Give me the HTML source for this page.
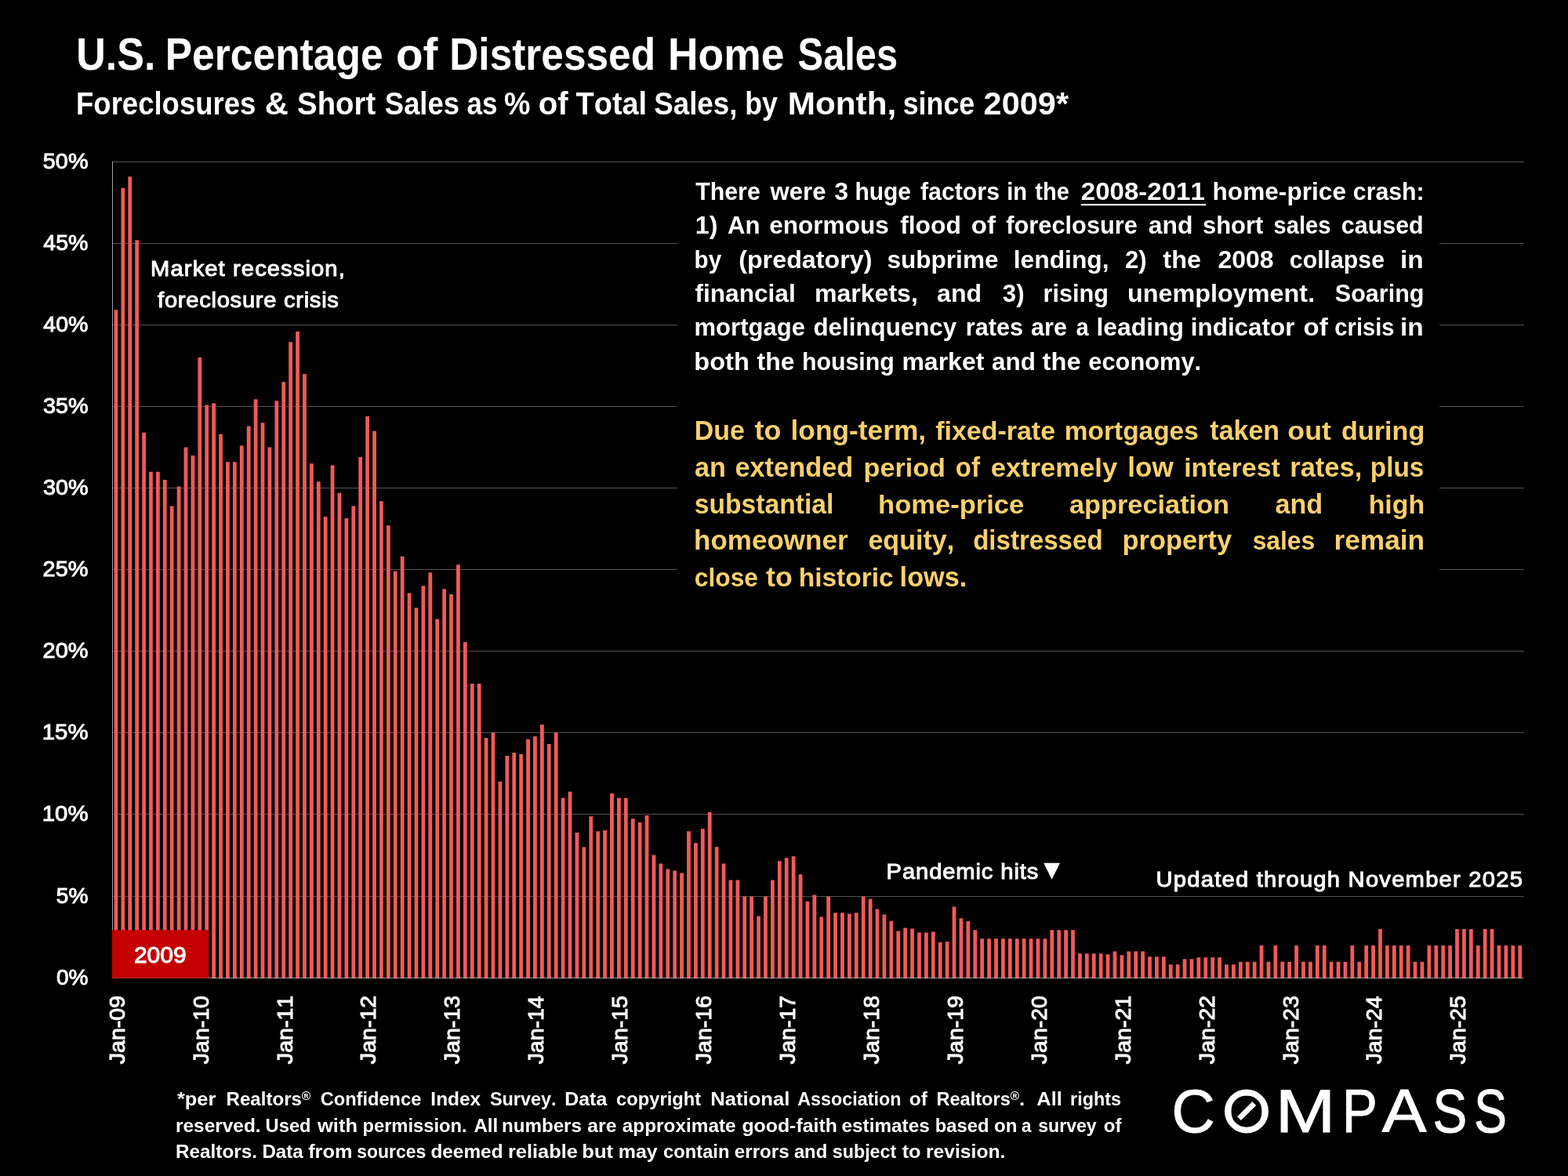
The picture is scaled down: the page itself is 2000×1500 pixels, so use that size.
<!DOCTYPE html>
<html lang="en"><head><meta charset="utf-8"><title>U.S. Percentage of Distressed Home Sales</title>
<style>html,body{margin:0;padding:0;background:#000;width:2000px;height:1500px;overflow:hidden}svg{display:block}text{white-space:pre;font-kerning:none}</style></head>
<body>
<svg width="2000" height="1500" viewBox="0 0 2000 1500" font-family="'Liberation Sans', sans-serif" fill="#fff">
<rect width="2000" height="1500" fill="#000"/>
<g fill="#525252">
<rect x="143.0" y="1143" width="1801" height="1"/>
<rect x="143.0" y="1038" width="1801" height="1"/>
<rect x="143.0" y="934" width="1801" height="1"/>
<rect x="143.0" y="830" width="1801" height="1"/>
<rect x="143.0" y="726" width="1801" height="1"/>
<rect x="143.0" y="622" width="1801" height="1"/>
<rect x="143.0" y="518" width="1801" height="1"/>
<rect x="143.0" y="414" width="1801" height="1"/>
<rect x="143.0" y="310" width="1801" height="1"/>
<rect x="143.0" y="206" width="1801" height="1"/>
</g>
<rect x="864" y="215" width="972" height="560" fill="#000"/>
<path fill="#f05a5a" d="M145.50 1248v-852.84h4.8v852.84zM154.41 1248v-1008.22h4.8v1008.22zM163.32 1248v-1022.78h4.8v1022.78zM172.23 1248v-941.66h4.8v941.66zM181.14 1248v-696.22h4.8v696.22zM190.05 1248v-646.30h4.8v646.30zM198.96 1248v-646.30h4.8v646.30zM207.87 1248v-635.90h4.8v635.90zM216.78 1248v-602.62h4.8v602.62zM225.69 1248v-627.58h4.8v627.58zM234.59 1248v-677.50h4.8v677.50zM243.50 1248v-667.10h4.8v667.10zM252.41 1248v-791.90h4.8v791.90zM261.32 1248v-731.58h4.8v731.58zM270.23 1248v-733.66h4.8v733.66zM279.14 1248v-694.14h4.8v694.14zM288.05 1248v-658.78h4.8v658.78zM296.96 1248v-658.78h4.8v658.78zM305.87 1248v-679.58h4.8v679.58zM314.78 1248v-704.54h4.8v704.54zM323.69 1248v-738.86h4.8v738.86zM332.60 1248v-708.70h4.8v708.70zM341.51 1248v-677.50h4.8v677.50zM350.42 1248v-736.78h4.8v736.78zM359.33 1248v-760.70h4.8v760.70zM368.24 1248v-811.66h4.8v811.66zM377.15 1248v-825.18h4.8v825.18zM386.06 1248v-771.10h4.8v771.10zM394.97 1248v-656.70h4.8v656.70zM403.88 1248v-633.82h4.8v633.82zM412.78 1248v-589.10h4.8v589.10zM421.69 1248v-654.62h4.8v654.62zM430.60 1248v-619.26h4.8v619.26zM439.51 1248v-587.02h4.8v587.02zM448.42 1248v-602.62h4.8v602.62zM457.33 1248v-665.02h4.8v665.02zM466.24 1248v-717.02h4.8v717.02zM475.15 1248v-698.30h4.8v698.30zM484.06 1248v-608.86h4.8v608.86zM492.97 1248v-577.66h4.8v577.66zM501.88 1248v-519.42h4.8v519.42zM510.79 1248v-538.14h4.8v538.14zM519.70 1248v-491.55h4.8v491.55zM528.61 1248v-472.83h4.8v472.83zM537.52 1248v-500.70h4.8v500.70zM546.43 1248v-517.76h4.8v517.76zM555.34 1248v-458.48h4.8v458.48zM564.25 1248v-496.75h4.8v496.75zM573.16 1248v-489.88h4.8v489.88zM582.07 1248v-527.74h4.8v527.74zM590.97 1248v-428.94h4.8v428.94zM599.88 1248v-375.90h4.8v375.90zM608.79 1248v-375.90h4.8v375.90zM617.70 1248v-306.84h4.8v306.84zM626.61 1248v-313.50h4.8v313.50zM635.52 1248v-251.10h4.8v251.10zM644.43 1248v-283.96h4.8v283.96zM653.34 1248v-288.12h4.8v288.12zM662.25 1248v-286.04h4.8v286.04zM671.16 1248v-304.97h4.8v304.97zM680.07 1248v-308.72h4.8v308.72zM688.98 1248v-323.69h4.8v323.69zM697.89 1248v-298.94h4.8v298.94zM706.80 1248v-313.50h4.8v313.50zM715.71 1248v-230.30h4.8v230.30zM724.62 1248v-238.20h4.8v238.20zM733.53 1248v-185.98h4.8v185.98zM742.44 1248v-167.50h4.8v167.50zM751.35 1248v-206.77h4.8v206.77zM760.26 1248v-187.87h4.8v187.87zM769.16 1248v-188.92h4.8v188.92zM778.07 1248v-236.12h4.8v236.12zM786.98 1248v-230.30h4.8v230.30zM795.89 1248v-230.30h4.8v230.30zM804.80 1248v-203.83h4.8v203.83zM813.71 1248v-199.00h4.8v199.00zM822.62 1248v-208.03h4.8v208.03zM831.53 1248v-157.42h4.8v157.42zM840.44 1248v-146.50h4.8v146.50zM849.35 1248v-139.57h4.8v139.57zM858.26 1248v-137.47h4.8v137.47zM867.17 1248v-134.53h4.8v134.53zM876.08 1248v-187.87h4.8v187.87zM884.99 1248v-172.75h4.8v172.75zM893.90 1248v-190.81h4.8v190.81zM902.81 1248v-212.00h4.8v212.00zM911.72 1248v-167.71h4.8v167.71zM920.63 1248v-146.50h4.8v146.50zM929.54 1248v-125.50h4.8v125.50zM938.45 1248v-125.50h4.8v125.50zM947.35 1248v-104.50h4.8v104.50zM956.26 1248v-104.50h4.8v104.50zM965.17 1248v-79.54h4.8v79.54zM974.08 1248v-104.50h4.8v104.50zM982.99 1248v-125.50h4.8v125.50zM991.90 1248v-149.65h4.8v149.65zM1000.81 1248v-153.64h4.8v153.64zM1009.72 1248v-155.74h4.8v155.74zM1018.63 1248v-132.64h4.8v132.64zM1027.54 1248v-98.26h4.8v98.26zM1036.45 1248v-106.39h4.8v106.39zM1045.36 1248v-78.50h4.8v78.50zM1054.27 1248v-104.50h4.8v104.50zM1063.18 1248v-83.70h4.8v83.70zM1072.09 1248v-83.70h4.8v83.70zM1081.00 1248v-82.45h4.8v82.45zM1089.91 1248v-83.70h4.8v83.70zM1098.82 1248v-104.50h4.8v104.50zM1107.73 1248v-101.38h4.8v101.38zM1116.64 1248v-88.48h4.8v88.48zM1125.55 1248v-81.62h4.8v81.62zM1134.45 1248v-73.30h4.8v73.30zM1143.36 1248v-60.61h4.8v60.61zM1152.27 1248v-64.56h4.8v64.56zM1161.18 1248v-63.52h4.8v63.52zM1170.09 1248v-58.53h4.8v58.53zM1179.00 1248v-58.53h4.8v58.53zM1187.91 1248v-59.57h4.8v59.57zM1196.82 1248v-46.26h4.8v46.26zM1205.73 1248v-47.09h4.8v47.09zM1214.64 1248v-91.60h4.8v91.60zM1223.55 1248v-76.63h4.8v76.63zM1232.46 1248v-72.88h4.8v72.88zM1241.37 1248v-61.65h4.8v61.65zM1250.28 1248v-50.63h4.8v50.63zM1259.19 1248v-50.63h4.8v50.63zM1268.10 1248v-50.63h4.8v50.63zM1277.01 1248v-50.63h4.8v50.63zM1285.92 1248v-50.63h4.8v50.63zM1294.83 1248v-50.63h4.8v50.63zM1303.73 1248v-50.63h4.8v50.63zM1312.64 1248v-50.63h4.8v50.63zM1321.55 1248v-50.63h4.8v50.63zM1330.46 1248v-50.63h4.8v50.63zM1339.37 1248v-61.65h4.8v61.65zM1348.28 1248v-61.65h4.8v61.65zM1357.19 1248v-61.65h4.8v61.65zM1366.10 1248v-61.65h4.8v61.65zM1375.01 1248v-31.70h4.8v31.70zM1383.92 1248v-31.70h4.8v31.70zM1392.83 1248v-31.70h4.8v31.70zM1401.74 1248v-31.70h4.8v31.70zM1410.65 1248v-30.87h4.8v30.87zM1419.56 1248v-34.61h4.8v34.61zM1428.47 1248v-29.83h4.8v29.83zM1437.38 1248v-34.61h4.8v34.61zM1446.29 1248v-34.61h4.8v34.61zM1455.20 1248v-34.61h4.8v34.61zM1464.11 1248v-27.75h4.8v27.75zM1473.02 1248v-27.75h4.8v27.75zM1481.92 1248v-27.75h4.8v27.75zM1490.83 1248v-17.76h4.8v17.76zM1499.74 1248v-17.76h4.8v17.76zM1508.65 1248v-24.63h4.8v24.63zM1517.56 1248v-24.63h4.8v24.63zM1526.47 1248v-26.71h4.8v26.71zM1535.38 1248v-26.71h4.8v26.71zM1544.29 1248v-26.71h4.8v26.71zM1553.20 1248v-26.71h4.8v26.71zM1562.11 1248v-17.76h4.8v17.76zM1571.02 1248v-17.76h4.8v17.76zM1579.93 1248v-21.30h4.8v21.30zM1588.84 1248v-21.30h4.8v21.30zM1597.75 1248v-21.30h4.8v21.30zM1606.66 1248v-42.10h4.8v42.10zM1615.57 1248v-21.30h4.8v21.30zM1624.48 1248v-42.10h4.8v42.10zM1633.39 1248v-21.30h4.8v21.30zM1642.30 1248v-21.30h4.8v21.30zM1651.21 1248v-42.10h4.8v42.10zM1660.12 1248v-21.30h4.8v21.30zM1669.02 1248v-21.30h4.8v21.30zM1677.93 1248v-42.10h4.8v42.10zM1686.84 1248v-42.10h4.8v42.10zM1695.75 1248v-21.30h4.8v21.30zM1704.66 1248v-21.30h4.8v21.30zM1713.57 1248v-21.30h4.8v21.30zM1722.48 1248v-42.10h4.8v42.10zM1731.39 1248v-21.30h4.8v21.30zM1740.30 1248v-42.10h4.8v42.10zM1749.21 1248v-42.10h4.8v42.10zM1758.12 1248v-62.90h4.8v62.90zM1767.03 1248v-42.10h4.8v42.10zM1775.94 1248v-42.10h4.8v42.10zM1784.85 1248v-42.10h4.8v42.10zM1793.76 1248v-42.10h4.8v42.10zM1802.67 1248v-21.30h4.8v21.30zM1811.58 1248v-21.30h4.8v21.30zM1820.49 1248v-42.10h4.8v42.10zM1829.40 1248v-42.10h4.8v42.10zM1838.30 1248v-42.10h4.8v42.10zM1847.21 1248v-42.10h4.8v42.10zM1856.12 1248v-62.90h4.8v62.90zM1865.03 1248v-62.90h4.8v62.90zM1873.94 1248v-62.90h4.8v62.90zM1882.85 1248v-42.10h4.8v42.10zM1891.76 1248v-62.90h4.8v62.90zM1900.67 1248v-62.90h4.8v62.90zM1909.58 1248v-42.10h4.8v42.10zM1918.49 1248v-42.10h4.8v42.10zM1927.40 1248v-42.10h4.8v42.10zM1936.31 1248v-42.10h4.8v42.10z"/>
<rect x="143.0" y="206" width="1" height="1042" fill="#a6a6a6"/>
<rect x="143.0" y="1247" width="1800" height="1" fill="#c8c8c8" fill-opacity="0.7"/>
<rect x="143" y="1186.25" width="123.25" height="61.5" fill="#c40000"/>
<text transform="translate(170.89 1227.60) scale(1.0200 1)" font-size="29.5" stroke="#fff" stroke-width="1.0">2009</text>
<g>
<text transform="translate(71.90 1256.40) scale(0.9961 1)" font-size="28.2" stroke="#fff" stroke-width="1.0">0%</text>
<text transform="translate(71.87 1152.40) scale(0.9968 1)" font-size="28.2" stroke="#fff" stroke-width="1.0">5%</text>
<text transform="translate(53.76 1047.40) scale(1.0415 1)" font-size="28.2" stroke="#fff" stroke-width="1.0">10%</text>
<text transform="translate(53.76 943.40) scale(1.0415 1)" font-size="28.2" stroke="#fff" stroke-width="1.0">15%</text>
<text transform="translate(54.54 839.40) scale(1.0274 1)" font-size="28.2" stroke="#fff" stroke-width="1.0">20%</text>
<text transform="translate(54.54 735.40) scale(1.0274 1)" font-size="28.2" stroke="#fff" stroke-width="1.0">25%</text>
<text transform="translate(54.90 631.40) scale(1.0209 1)" font-size="28.2" stroke="#fff" stroke-width="1.0">30%</text>
<text transform="translate(54.90 527.40) scale(1.0209 1)" font-size="28.2" stroke="#fff" stroke-width="1.0">35%</text>
<text transform="translate(55.34 423.40) scale(1.0130 1)" font-size="28.2" stroke="#fff" stroke-width="1.0">40%</text>
<text transform="translate(55.34 319.40) scale(1.0130 1)" font-size="28.2" stroke="#fff" stroke-width="1.0">45%</text>
<text transform="translate(54.85 215.40) scale(1.0220 1)" font-size="28.2" stroke="#fff" stroke-width="1.0">50%</text>
</g>
<g>
<text transform="translate(158.70 1271.20) rotate(-90) translate(-85.95 0) scale(1.0125 1)" font-size="28.2" stroke="#fff" stroke-width="1.0">Jan-09</text>
<text transform="translate(265.61 1271.20) rotate(-90) translate(-85.94 0) scale(1.0097 1)" font-size="28.2" stroke="#fff" stroke-width="1.0">Jan-10</text>
<text transform="translate(372.53 1271.20) rotate(-90) translate(-85.95 0) scale(1.0129 1)" font-size="28.2" stroke="#fff" stroke-width="1.0">Jan-11</text>
<text transform="translate(479.44 1271.20) rotate(-90) translate(-85.95 0) scale(1.0134 1)" font-size="28.2" stroke="#fff" stroke-width="1.0">Jan-12</text>
<text transform="translate(586.36 1271.20) rotate(-90) translate(-85.95 0) scale(1.0113 1)" font-size="28.2" stroke="#fff" stroke-width="1.0">Jan-13</text>
<text transform="translate(693.27 1271.20) rotate(-90) translate(-85.94 0) scale(1.0064 1)" font-size="28.2" stroke="#fff" stroke-width="1.0">Jan-14</text>
<text transform="translate(800.18 1271.20) rotate(-90) translate(-85.95 0) scale(1.0106 1)" font-size="28.2" stroke="#fff" stroke-width="1.0">Jan-15</text>
<text transform="translate(907.10 1271.20) rotate(-90) translate(-85.95 0) scale(1.0113 1)" font-size="28.2" stroke="#fff" stroke-width="1.0">Jan-16</text>
<text transform="translate(1014.01 1271.20) rotate(-90) translate(-85.95 0) scale(1.0134 1)" font-size="28.2" stroke="#fff" stroke-width="1.0">Jan-17</text>
<text transform="translate(1120.93 1271.20) rotate(-90) translate(-85.95 0) scale(1.0111 1)" font-size="28.2" stroke="#fff" stroke-width="1.0">Jan-18</text>
<text transform="translate(1227.84 1271.20) rotate(-90) translate(-85.95 0) scale(1.0125 1)" font-size="28.2" stroke="#fff" stroke-width="1.0">Jan-19</text>
<text transform="translate(1334.75 1271.20) rotate(-90) translate(-85.94 0) scale(1.0097 1)" font-size="28.2" stroke="#fff" stroke-width="1.0">Jan-20</text>
<text transform="translate(1441.67 1271.20) rotate(-90) translate(-85.95 0) scale(1.0129 1)" font-size="28.2" stroke="#fff" stroke-width="1.0">Jan-21</text>
<text transform="translate(1548.58 1271.20) rotate(-90) translate(-85.95 0) scale(1.0134 1)" font-size="28.2" stroke="#fff" stroke-width="1.0">Jan-22</text>
<text transform="translate(1655.50 1271.20) rotate(-90) translate(-85.95 0) scale(1.0113 1)" font-size="28.2" stroke="#fff" stroke-width="1.0">Jan-23</text>
<text transform="translate(1762.41 1271.20) rotate(-90) translate(-85.94 0) scale(1.0064 1)" font-size="28.2" stroke="#fff" stroke-width="1.0">Jan-24</text>
<text transform="translate(1869.32 1271.20) rotate(-90) translate(-85.95 0) scale(1.0106 1)" font-size="28.2" stroke="#fff" stroke-width="1.0">Jan-25</text>
</g>
<g>
<text transform="translate(97.17 89.00) scale(0.9211 1)" font-size="56.5" font-weight="bold">U.S.</text>
<text transform="translate(210.75 89.00) scale(0.9123 1)" font-size="56.5" font-weight="bold">Percentage</text>
<text transform="translate(504.89 89.00) scale(1.0014 1)" font-size="56.5" font-weight="bold">of</text>
<text transform="translate(573.26 89.00) scale(0.9097 1)" font-size="56.5" font-weight="bold">Distressed</text>
<text transform="translate(852.02 89.00) scale(0.9460 1)" font-size="56.5" font-weight="bold">Home</text>
<text transform="translate(1017.59 89.00) scale(0.8643 1)" font-size="56.5" font-weight="bold">Sales</text>
</g>
<g>
<text transform="translate(97.06 146.40) scale(0.9017 1)" font-size="40.5" font-weight="bold">Foreclosures</text>
<text transform="translate(337.87 146.40) scale(1.0304 1)" font-size="40.5" font-weight="bold">&amp;</text>
<text transform="translate(379.09 146.40) scale(0.9474 1)" font-size="40.5" font-weight="bold">Short</text>
<text transform="translate(490.85 146.40) scale(0.8989 1)" font-size="40.5" font-weight="bold">Sales</text>
<text transform="translate(595.47 146.40) scale(0.8649 1)" font-size="40.5" font-weight="bold">as</text>
<text transform="translate(643.06 146.40) scale(0.9283 1)" font-size="40.5" font-weight="bold">%</text>
<text transform="translate(686.73 146.40) scale(0.9939 1)" font-size="40.5" font-weight="bold">of</text>
<text transform="translate(734.57 146.40) scale(0.9366 1)" font-size="40.5" font-weight="bold">Total</text>
<text transform="translate(834.24 146.40) scale(0.9071 1)" font-size="40.5" font-weight="bold">Sales,</text>
<text transform="translate(950.25 146.40) scale(0.8811 1)" font-size="40.5" font-weight="bold">by</text>
<text transform="translate(1004.67 146.40) scale(1.0450 1)" font-size="40.5" font-weight="bold">Month,</text>
<text transform="translate(1151.74 146.40) scale(0.8833 1)" font-size="40.5" font-weight="bold">since</text>
<text transform="translate(1254.56 146.40) scale(1.0248 1)" font-size="40.5" font-weight="bold">2009*</text>
</g>
<text transform="translate(192.11 352.00) scale(1.05 1)" font-size="27.8" stroke="#fff" stroke-width="1.0" letter-spacing="1.033">Market recession,</text>
<text transform="translate(201.09 392.00) scale(1.05 1)" font-size="27.8" stroke="#fff" stroke-width="1.0" letter-spacing="0.666">foreclosure crisis</text>
<text transform="translate(1130.61 1120.70) scale(1.05 1)" font-size="27.8" stroke="#fff" stroke-width="1.0" letter-spacing="0.823">Pandemic hits</text>
<polygon points="1331.25,1100.75 1352,1100.75 1341.6,1121.75"/>
<text transform="translate(1474.50 1130.70) scale(1.05 1)" font-size="27.8" stroke="#fff" stroke-width="1.0" letter-spacing="1.163">Updated through November 2025</text>
<g>
<text transform="translate(887.16 255.00) scale(0.9694 1)" font-size="31.3" font-weight="bold">There</text>
<text transform="translate(982.59 255.00) scale(0.9948 1)" font-size="31.3" font-weight="bold">were</text>
<text transform="translate(1064.26 255.00) scale(1.0284 1)" font-size="31.3" font-weight="bold">3</text>
<text transform="translate(1090.41 255.00) scale(0.9579 1)" font-size="31.3" font-weight="bold">huge</text>
<text transform="translate(1173.98 255.00) scale(0.9678 1)" font-size="31.3" font-weight="bold">factors</text>
<text transform="translate(1284.20 255.00) scale(0.9300 1)" font-size="31.3" font-weight="bold">in</text>
<text transform="translate(1320.24 255.00) scale(0.9300 1)" font-size="31.3" font-weight="bold">the</text>
<text transform="translate(1378.85 255.00) scale(1.0560 1)" font-size="31.3" font-weight="bold">2008-2011</text>
<text transform="translate(1546.54 255.00) scale(1.0108 1)" font-size="31.3" font-weight="bold">home-price</text>
<text transform="translate(1725.82 255.00) scale(0.9670 1)" font-size="31.3" font-weight="bold">crash:</text>
<text transform="translate(886.72 298.25) scale(1.0288 1)" font-size="31.3" font-weight="bold">1)</text>
<text transform="translate(927.98 298.25) scale(0.9935 1)" font-size="31.3" font-weight="bold">An</text>
<text transform="translate(981.27 298.25) scale(1.0081 1)" font-size="31.3" font-weight="bold">enormous</text>
<text transform="translate(1148.21 298.25) scale(1.0152 1)" font-size="31.3" font-weight="bold">flood</text>
<text transform="translate(1238.71 298.25) scale(1.0570 1)" font-size="31.3" font-weight="bold">of</text>
<text transform="translate(1283.22 298.25) scale(0.9845 1)" font-size="31.3" font-weight="bold">foreclosure</text>
<text transform="translate(1464.81 298.25) scale(1.0206 1)" font-size="31.3" font-weight="bold">and</text>
<text transform="translate(1533.91 298.25) scale(0.9900 1)" font-size="31.3" font-weight="bold">short</text>
<text transform="translate(1624.54 298.25) scale(0.9300 1)" font-size="31.3" font-weight="bold">sales</text>
<text transform="translate(1710.81 298.25) scale(0.9729 1)" font-size="31.3" font-weight="bold">caused</text>
<text transform="translate(885.54 341.75) scale(0.9476 1)" font-size="31.3" font-weight="bold">by</text>
<text transform="translate(942.14 341.75) scale(1.0318 1)" font-size="31.3" font-weight="bold">(predatory)</text>
<text transform="translate(1131.39 341.75) scale(1.0093 1)" font-size="31.3" font-weight="bold">subprime</text>
<text transform="translate(1292.78 341.75) scale(1.0156 1)" font-size="31.3" font-weight="bold">lending,</text>
<text transform="translate(1434.92 341.75) scale(0.9926 1)" font-size="31.3" font-weight="bold">2)</text>
<text transform="translate(1483.35 341.75) scale(1.0385 1)" font-size="31.3" font-weight="bold">the</text>
<text transform="translate(1553.39 341.75) scale(1.0247 1)" font-size="31.3" font-weight="bold">2008</text>
<text transform="translate(1644.82 341.75) scale(0.9677 1)" font-size="31.3" font-weight="bold">collapse</text>
<text transform="translate(1786.06 341.75) scale(1.0700 1)" font-size="31.3" font-weight="bold">in</text>
<text transform="translate(886.46 385.00) scale(1.0103 1)" font-size="31.3" font-weight="bold">financial</text>
<text transform="translate(1038.88 385.00) scale(1.0252 1)" font-size="31.3" font-weight="bold">markets,</text>
<text transform="translate(1195.06 385.00) scale(1.0253 1)" font-size="31.3" font-weight="bold">and</text>
<text transform="translate(1278.78 385.00) scale(0.9979 1)" font-size="31.3" font-weight="bold">3)</text>
<text transform="translate(1330.48 385.00) scale(0.9807 1)" font-size="31.3" font-weight="bold">rising</text>
<text transform="translate(1437.99 385.00) scale(1.0343 1)" font-size="31.3" font-weight="bold">unemployment.</text>
<text transform="translate(1702.87 385.00) scale(0.9756 1)" font-size="31.3" font-weight="bold">Soaring</text>
<text transform="translate(885.45 428.25) scale(0.9930 1)" font-size="31.3" font-weight="bold">mortgage</text>
<text transform="translate(1037.47 428.25) scale(1.0005 1)" font-size="31.3" font-weight="bold">delinquency</text>
<text transform="translate(1231.73 428.25) scale(0.9793 1)" font-size="31.3" font-weight="bold">rates</text>
<text transform="translate(1315.10 428.25) scale(0.9776 1)" font-size="31.3" font-weight="bold">are</text>
<text transform="translate(1372.39 428.25) scale(0.9300 1)" font-size="31.3" font-weight="bold">a</text>
<text transform="translate(1398.52 428.25) scale(1.0187 1)" font-size="31.3" font-weight="bold">leading</text>
<text transform="translate(1518.81 428.25) scale(1.0038 1)" font-size="31.3" font-weight="bold">indicator</text>
<text transform="translate(1662.46 428.25) scale(1.0570 1)" font-size="31.3" font-weight="bold">of</text>
<text transform="translate(1702.37 428.25) scale(0.9300 1)" font-size="31.3" font-weight="bold">crisis</text>
<text transform="translate(1786.06 428.25) scale(1.0700 1)" font-size="31.3" font-weight="bold">in</text>
<text transform="translate(885.36 472.00) scale(1.0388 1)" font-size="31.3" font-weight="bold">both</text>
<text transform="translate(965.61 472.00) scale(1.0220 1)" font-size="31.3" font-weight="bold">the</text>
<text transform="translate(1022.88 472.00) scale(0.9687 1)" font-size="31.3" font-weight="bold">housing</text>
<text transform="translate(1150.39 472.00) scale(1.0228 1)" font-size="31.3" font-weight="bold">market</text>
<text transform="translate(1265.08 472.00) scale(1.0016 1)" font-size="31.3" font-weight="bold">and</text>
<text transform="translate(1329.60 472.00) scale(1.0440 1)" font-size="31.3" font-weight="bold">the</text>
<text transform="translate(1388.30 472.00) scale(0.9844 1)" font-size="31.3" font-weight="bold">economy.</text>
</g>
<rect x="1378.75" y="260" width="159.25" height="2.2"/>
<g>
<text transform="translate(885.73 561.25) scale(0.9949 1)" font-size="34.15" font-weight="bold" fill="#fad06e">Due</text>
<text transform="translate(962.56 561.25) scale(1.0498 1)" font-size="34.15" font-weight="bold" fill="#fad06e">to</text>
<text transform="translate(1008.54 561.25) scale(1.0337 1)" font-size="34.15" font-weight="bold" fill="#fad06e">long-term,</text>
<text transform="translate(1193.17 561.25) scale(0.9952 1)" font-size="34.15" font-weight="bold" fill="#fad06e">fixed-rate</text>
<text transform="translate(1357.79 561.25) scale(0.9799 1)" font-size="34.15" font-weight="bold" fill="#fad06e">mortgages</text>
<text transform="translate(1543.34 561.25) scale(0.9951 1)" font-size="34.15" font-weight="bold" fill="#fad06e">taken</text>
<text transform="translate(1642.35 561.25) scale(1.0469 1)" font-size="34.15" font-weight="bold" fill="#fad06e">out</text>
<text transform="translate(1711.10 561.25) scale(0.9997 1)" font-size="34.15" font-weight="bold" fill="#fad06e">during</text>
<text transform="translate(886.00 608.00) scale(1.0004 1)" font-size="34.15" font-weight="bold" fill="#fad06e">an</text>
<text transform="translate(937.41 608.00) scale(1.0062 1)" font-size="34.15" font-weight="bold" fill="#fad06e">extended</text>
<text transform="translate(1101.50 608.00) scale(1.0015 1)" font-size="34.15" font-weight="bold" fill="#fad06e">period</text>
<text transform="translate(1218.71 608.00) scale(0.9688 1)" font-size="34.15" font-weight="bold" fill="#fad06e">of</text>
<text transform="translate(1263.65 608.00) scale(1.0129 1)" font-size="34.15" font-weight="bold" fill="#fad06e">extremely</text>
<text transform="translate(1438.29 608.00) scale(1.0303 1)" font-size="34.15" font-weight="bold" fill="#fad06e">low</text>
<text transform="translate(1510.13 608.00) scale(0.9954 1)" font-size="34.15" font-weight="bold" fill="#fad06e">interest</text>
<text transform="translate(1645.23 608.00) scale(1.0105 1)" font-size="34.15" font-weight="bold" fill="#fad06e">rates,</text>
<text transform="translate(1747.80 608.00) scale(0.9767 1)" font-size="34.15" font-weight="bold" fill="#fad06e">plus</text>
<text transform="translate(885.82 654.50) scale(0.9850 1)" font-size="34.15" font-weight="bold" fill="#fad06e">substantial</text>
<text transform="translate(1120.09 654.50) scale(1.0110 1)" font-size="34.15" font-weight="bold" fill="#fad06e">home-price</text>
<text transform="translate(1363.99 654.50) scale(1.0053 1)" font-size="34.15" font-weight="bold" fill="#fad06e">appreciation</text>
<text transform="translate(1626.50 654.50) scale(1.0007 1)" font-size="34.15" font-weight="bold" fill="#fad06e">and</text>
<text transform="translate(1745.64 654.50) scale(0.9916 1)" font-size="34.15" font-weight="bold" fill="#fad06e">high</text>
<text transform="translate(885.06 701.25) scale(1.0252 1)" font-size="34.15" font-weight="bold" fill="#fad06e">homeowner</text>
<text transform="translate(1107.42 701.25) scale(0.9983 1)" font-size="34.15" font-weight="bold" fill="#fad06e">equity,</text>
<text transform="translate(1241.14 701.25) scale(0.9690 1)" font-size="34.15" font-weight="bold" fill="#fad06e">distressed</text>
<text transform="translate(1431.48 701.25) scale(1.0086 1)" font-size="34.15" font-weight="bold" fill="#fad06e">property</text>
<text transform="translate(1597.63 701.25) scale(0.9323 1)" font-size="34.15" font-weight="bold" fill="#fad06e">sales</text>
<text transform="translate(1701.42 701.25) scale(1.0337 1)" font-size="34.15" font-weight="bold" fill="#fad06e">remain</text>
<text transform="translate(885.76 748.00) scale(0.9300 1)" font-size="34.15" font-weight="bold" fill="#fad06e">close</text>
<text transform="translate(977.06 748.00) scale(1.0498 1)" font-size="34.15" font-weight="bold" fill="#fad06e">to</text>
<text transform="translate(1018.66 748.00) scale(0.9816 1)" font-size="34.15" font-weight="bold" fill="#fad06e">historic</text>
<text transform="translate(1147.61 748.00) scale(1.0043 1)" font-size="34.15" font-weight="bold" fill="#fad06e">lows.</text>
</g>
<g>
<text transform="translate(225.93 1410.00) scale(1.0528 1)" font-size="24.15" font-weight="bold">*per</text>
<text transform="translate(288.59 1410.00) scale(0.9976 1)" font-size="24.15" font-weight="bold">Realtors</text>
<text transform="translate(384.76 1402.50) scale(1.0051 1)" font-size="15.5" font-weight="bold">®</text>
<text transform="translate(408.63 1410.00) scale(0.9794 1)" font-size="24.15" font-weight="bold">Confidence</text>
<text transform="translate(549.37 1410.00) scale(1.0117 1)" font-size="24.15" font-weight="bold">Index</text>
<text transform="translate(624.92 1410.00) scale(0.9705 1)" font-size="24.15" font-weight="bold">Survey.</text>
<text transform="translate(720.34 1410.00) scale(1.0298 1)" font-size="24.15" font-weight="bold">Data</text>
<text transform="translate(786.07 1410.00) scale(0.9836 1)" font-size="24.15" font-weight="bold">copyright</text>
<text transform="translate(906.29 1410.00) scale(1.0615 1)" font-size="24.15" font-weight="bold">National</text>
<text transform="translate(1017.22 1410.00) scale(0.9660 1)" font-size="24.15" font-weight="bold">Association</text>
<text transform="translate(1159.84 1410.00) scale(1.0138 1)" font-size="24.15" font-weight="bold">of</text>
<text transform="translate(1194.42 1410.00) scale(0.9763 1)" font-size="24.15" font-weight="bold">Realtors</text>
<text transform="translate(1288.55 1402.50) scale(1.0234 1)" font-size="15.5" font-weight="bold">®</text>
<text transform="translate(1300.02 1410.00) scale(1.0700 1)" font-size="24.15" font-weight="bold">.</text>
<text transform="translate(1322.37 1410.00) scale(1.0508 1)" font-size="24.15" font-weight="bold">All</text>
<text transform="translate(1365.06 1410.00) scale(0.9674 1)" font-size="24.15" font-weight="bold">rights</text>
<text transform="translate(223.99 1443.50) scale(1.0119 1)" font-size="24.15" font-weight="bold">reserved.</text>
<text transform="translate(338.58 1443.50) scale(0.9819 1)" font-size="24.15" font-weight="bold">Used</text>
<text transform="translate(405.07 1443.50) scale(1.0542 1)" font-size="24.15" font-weight="bold">with</text>
<text transform="translate(462.44 1443.50) scale(0.9827 1)" font-size="24.15" font-weight="bold">permission.</text>
<text transform="translate(604.40 1443.50) scale(1.0018 1)" font-size="24.15" font-weight="bold">All</text>
<text transform="translate(640.01 1443.50) scale(0.9999 1)" font-size="24.15" font-weight="bold">numbers</text>
<text transform="translate(749.27 1443.50) scale(1.0251 1)" font-size="24.15" font-weight="bold">are</text>
<text transform="translate(793.79 1443.50) scale(1.0087 1)" font-size="24.15" font-weight="bold">approximate</text>
<text transform="translate(946.38 1443.50) scale(1.0300 1)" font-size="24.15" font-weight="bold">good-faith</text>
<text transform="translate(1073.45 1443.50) scale(1.0083 1)" font-size="24.15" font-weight="bold">estimates</text>
<text transform="translate(1192.83 1443.50) scale(0.9848 1)" font-size="24.15" font-weight="bold">based</text>
<text transform="translate(1268.06 1443.50) scale(0.9977 1)" font-size="24.15" font-weight="bold">on</text>
<text transform="translate(1302.95 1443.50) scale(0.9300 1)" font-size="24.15" font-weight="bold">a</text>
<text transform="translate(1324.19 1443.50) scale(0.9571 1)" font-size="24.15" font-weight="bold">survey</text>
<text transform="translate(1407.86 1443.50) scale(0.9955 1)" font-size="24.15" font-weight="bold">of</text>
<text transform="translate(223.97 1477.00) scale(1.0073 1)" font-size="24.15" font-weight="bold">Realtors.</text>
<text transform="translate(334.38 1477.00) scale(1.0023 1)" font-size="24.15" font-weight="bold">Data</text>
<text transform="translate(393.17 1477.00) scale(1.0511 1)" font-size="24.15" font-weight="bold">from</text>
<text transform="translate(455.19 1477.00) scale(0.9517 1)" font-size="24.15" font-weight="bold">sources</text>
<text transform="translate(549.40 1477.00) scale(1.0103 1)" font-size="24.15" font-weight="bold">deemed</text>
<text transform="translate(647.93 1477.00) scale(1.0517 1)" font-size="24.15" font-weight="bold">reliable</text>
<text transform="translate(742.31 1477.00) scale(1.0600 1)" font-size="24.15" font-weight="bold">but</text>
<text transform="translate(788.75 1477.00) scale(1.0340 1)" font-size="24.15" font-weight="bold">may</text>
<text transform="translate(846.07 1477.00) scale(0.9829 1)" font-size="24.15" font-weight="bold">contain</text>
<text transform="translate(936.86 1477.00) scale(0.9989 1)" font-size="24.15" font-weight="bold">errors</text>
<text transform="translate(1012.90 1477.00) scale(0.9844 1)" font-size="24.15" font-weight="bold">and</text>
<text transform="translate(1061.78 1477.00) scale(0.9640 1)" font-size="24.15" font-weight="bold">subject</text>
<text transform="translate(1150.69 1477.00) scale(1.0484 1)" font-size="24.15" font-weight="bold">to</text>
<text transform="translate(1180.97 1477.00) scale(1.0222 1)" font-size="24.15" font-weight="bold">revision.</text>
</g>
<g>
<text transform="translate(1494.61 1444.00) scale(0.9946 1)" font-size="77" stroke="#fff" stroke-width="1.0">C</text>
<text transform="translate(1559.25 1443.20) scale(1.0837 1)" font-size="73">O</text>
<text transform="translate(1626.71 1444.00) scale(1.1940 1)" font-size="77" stroke="#fff" stroke-width="1.0">M</text>
<text transform="translate(1711.99 1444.00) scale(0.8723 1)" font-size="77" stroke="#fff" stroke-width="1.0">P</text>
<text transform="translate(1762.83 1444.00) scale(1.1066 1)" font-size="77" stroke="#fff" stroke-width="1.0">A</text>
<text transform="translate(1827.52 1444.00) scale(0.8516 1)" font-size="77" stroke="#fff" stroke-width="1.0">S</text>
<text transform="translate(1880.16 1444.00) scale(0.8121 1)" font-size="77" stroke="#fff" stroke-width="1.0">S</text>
</g>
<circle cx="1590" cy="1417.5" r="24.1" fill="none" stroke="#fff" stroke-width="7.8"/>
<line x1="1580.5" y1="1426.6" x2="1599.75" y2="1407.5" stroke="#fff" stroke-width="6.9"/>
</svg>
</body></html>
